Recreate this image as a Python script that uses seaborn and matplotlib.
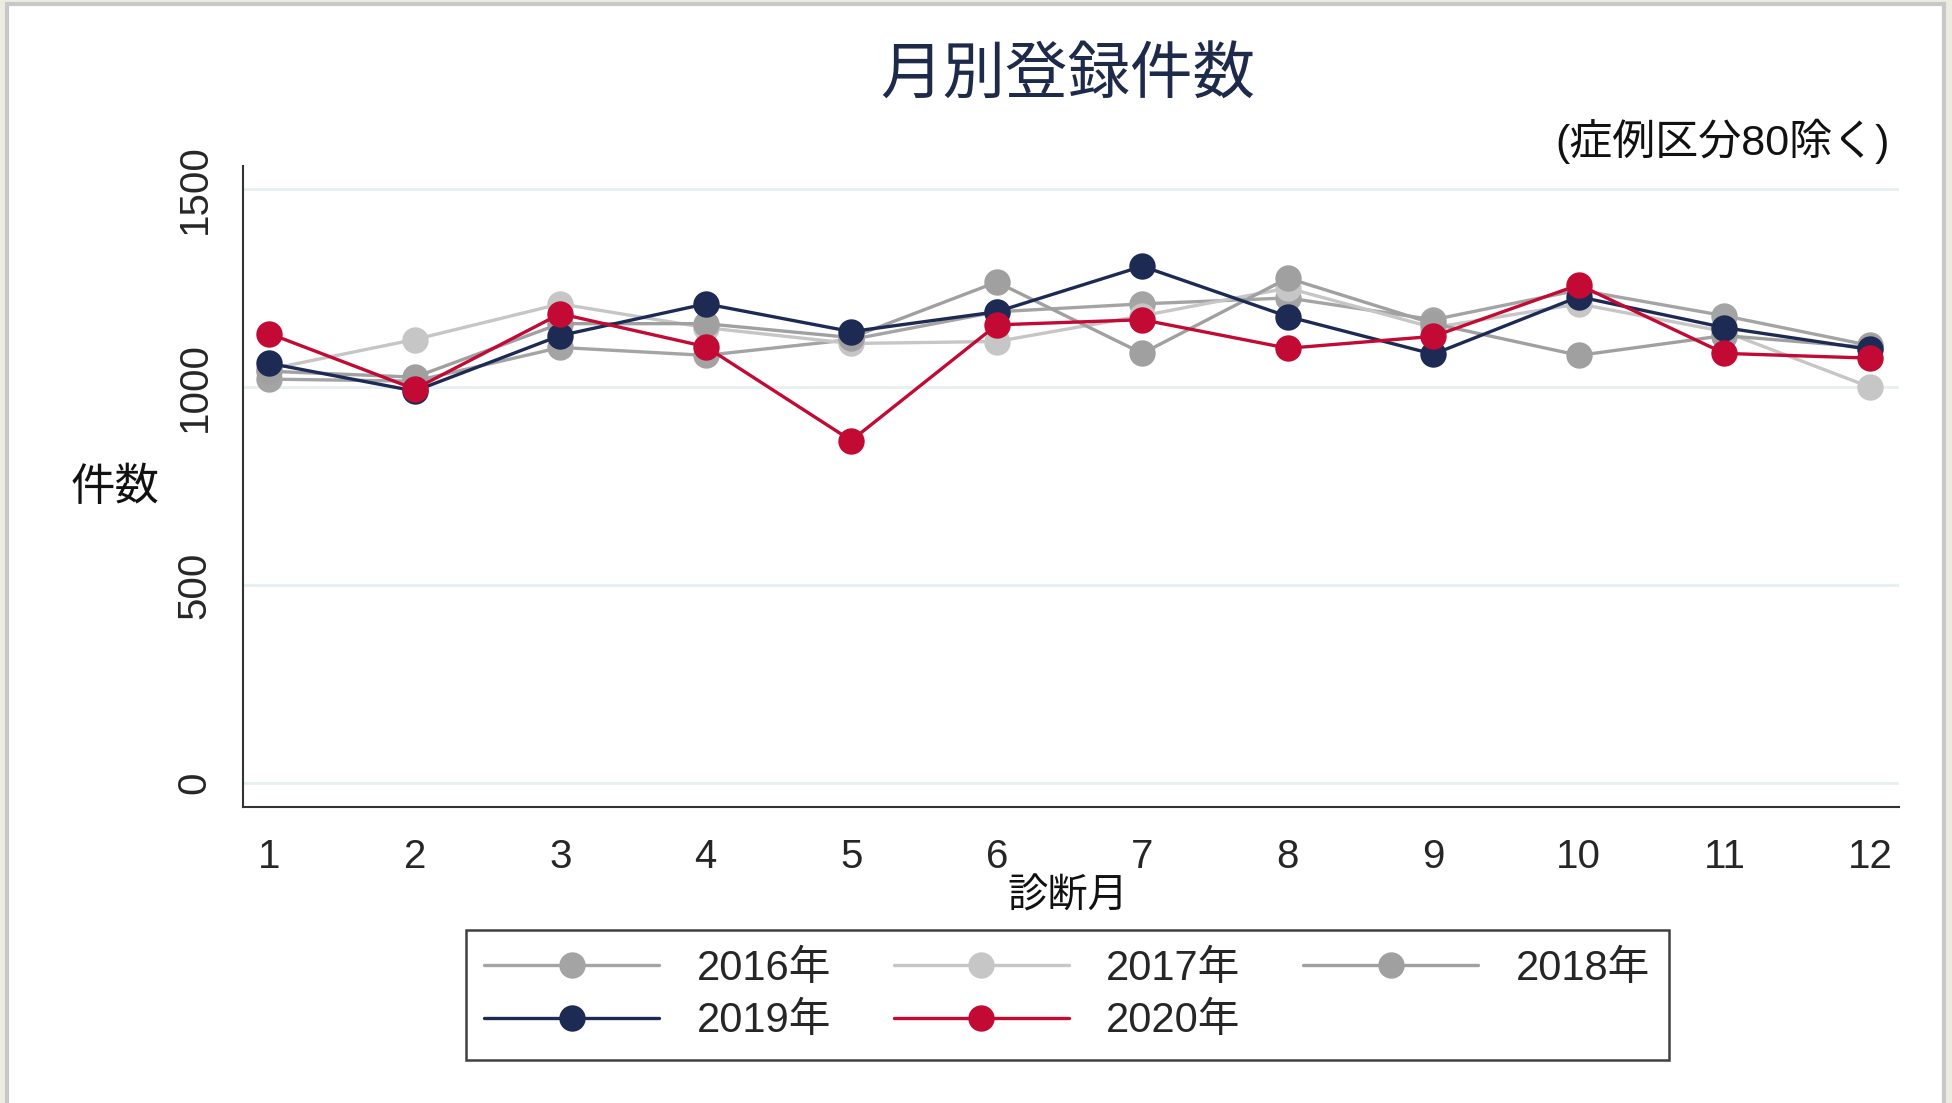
"""
月別登録件数 (症例区分80除く) line chart
"""

import numpy as np
import pandas as pd
import matplotlib
matplotlib.use("Agg")
import matplotlib.pyplot as plt
from matplotlib.patches import Rectangle
from matplotlib.lines import Line2D
import seaborn as sns

months = list(range(1, 13))
years = ["2016年", "2017年", "2018年", "2019年", "2020年"]

counts_2016 = [1020, 1015, 1100, 1080, 1120, 1190, 1210, 1225, 1170, 1245, 1180, 1105]
counts_2017 = [1045, 1120, 1210, 1150, 1110, 1115, 1180, 1250, 1150, 1210, 1140, 1000]
counts_2018 = [1040, 1025, 1160, 1160, 1125, 1265, 1085, 1275, 1160, 1080, 1130, 1100]
counts_2019 = [1060, 990, 1130, 1210, 1140, 1190, 1305, 1178, 1083, 1228, 1150, 1095]
counts_2020 = [1135, 995, 1185, 1102, 865, 1157, 1170, 1098, 1128, 1258, 1085, 1073]

colors = ["#a4a4a4", "#c6c6c6", "#a0a0a0", "#1c2a54", "#c20a35"]

df = pd.DataFrame({
    "month": months * 5,
    "year": np.repeat(years, 12),
    "count": counts_2016 + counts_2017 + counts_2018 + counts_2019 + counts_2020,
})

sns.set_style("white")
plt.rcParams["font.family"] = ["Liberation Sans", "Noto Sans CJK JP"]

fig = plt.figure(figsize=(19.52, 11.03), dpi=100)
fig.patch.set_facecolor("#eeece0")
# white panel with grey edge, like the screenshot frame
fig.patches.append(Rectangle((7 / 1952, -0.01), (1944 - 7) / 1952, 1 - 4 / 1103 + 0.01,
                             transform=fig.transFigure, facecolor="white",
                             edgecolor="#c8c8c8", linewidth=3, zorder=-10))

ax = fig.add_axes([243 / 1952, 1 - 807 / 1103, (1899 - 243) / 1952, (807 - 166) / 1103])
ax.set_zorder(1)
ax.set_facecolor("white")

palette = dict(zip(years, colors))
sns.lineplot(data=df, x="month", y="count", hue="year", hue_order=years,
             palette=palette, marker="o", markersize=19, markeredgewidth=0,
             linewidth=2.4, legend=False, ax=ax)

ax.set_xlim(0.82, 12.2)
ax.set_ylim(-60, 1558)
ax.set_xticks(months)
ax.set_yticks([0, 500, 1000, 1500])
ax.set_yticklabels(["0", "500", "1000", "1500"], rotation=90, va="center")
ax.tick_params(axis="x", length=8, width=1.5, pad=14, labelsize=29, direction="out")
ax.tick_params(axis="y", length=9, width=1.5, pad=12, labelsize=29, direction="out")
ax.yaxis.grid(True, color="#e6f0f1", linewidth=2)
ax.set_axisbelow(True)
for side in ["top", "right"]:
    ax.spines[side].set_visible(False)
for side in ["left", "bottom"]:
    ax.spines[side].set_color("#333333")
    ax.spines[side].set_linewidth(1.5)
ax.set_xlabel("")
ax.set_ylabel("")

fig.text(1068 / 1952, 1 - 77 / 1103, "月別登録件数", ha="center", va="center",
         fontsize=45, color="#1e2a4a")
fig.text(1890 / 1952, 1 - 141 / 1103, "(症例区分80除く)", ha="right", va="center",
         fontsize=31, color="#111111")
fig.text(1068 / 1952, 1 - 896 / 1103, "診断月", ha="center", va="center",
         fontsize=29, color="#111111")
fig.text(115 / 1952, 1 - 488 / 1103, "件数", ha="center", va="center",
         fontsize=32, color="#111111")

handles = [Line2D([], [], color=c, marker="o", markersize=19, markeredgewidth=0,
                  linewidth=2.4) for c in colors]
order = [0, 3, 1, 4, 2]
leg = fig.legend([handles[i] for i in order], [years[i] for i in order],
                 loc="center", bbox_to_anchor=(1067 / 1952, 1 - 995 / 1103),
                 ncol=3, fontsize=30, frameon=True, fancybox=False,
                 edgecolor="#111111", handlelength=4.2, handletextpad=0.9,
                 columnspacing=1.5, labelspacing=0.3, borderpad=0.45)
leg.get_frame().set_linewidth(1.8)

fig.savefig("out.png", dpi=100, facecolor=fig.get_facecolor())
